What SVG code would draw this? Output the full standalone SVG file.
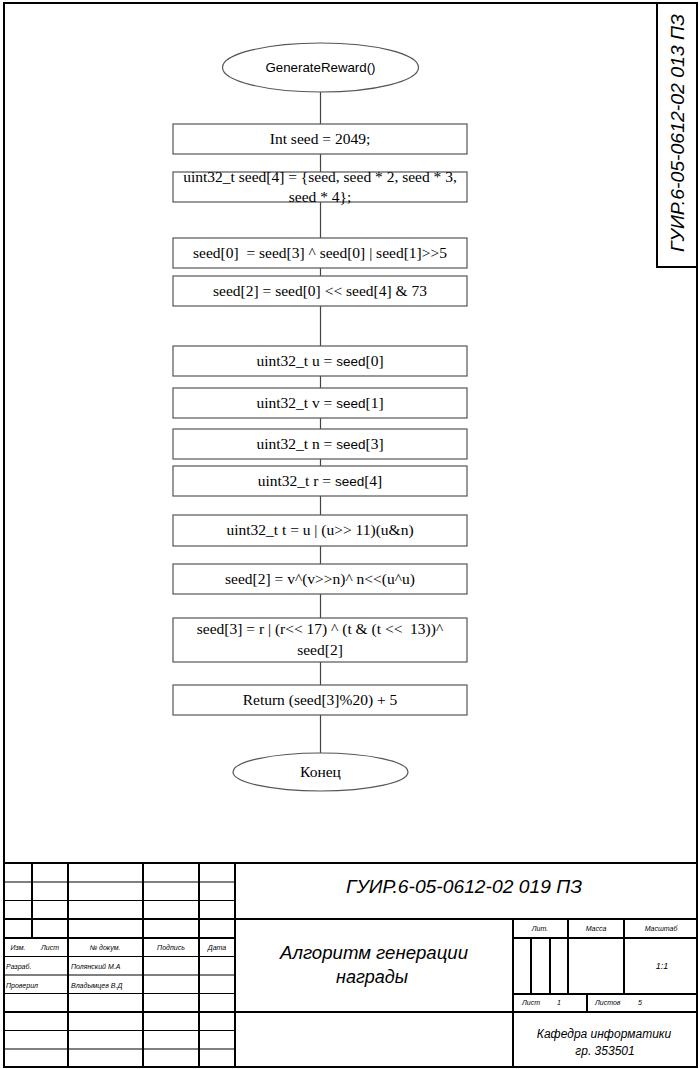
<svg xmlns="http://www.w3.org/2000/svg" width="700" height="1069" viewBox="0 0 700 1069">
<style>
.frame{fill:none;stroke:#000;stroke-width:2}
.tk{stroke:#000;stroke-width:2}
.tn{stroke:#000;stroke-width:1}
.box{fill:#fff;stroke:#555;stroke-width:1.2}
.conn{stroke:#444;stroke-width:1.2;fill:none}
.t{font-family:"Liberation Serif","Times New Roman",serif;font-size:15.5px;fill:#000;text-anchor:middle;white-space:pre}
.s{font-family:"Liberation Sans",Arial,sans-serif}
.g{font-family:"Liberation Sans",Arial,sans-serif;font-style:italic;fill:#000}
.gs{font-family:"Liberation Sans",Arial,sans-serif;font-style:italic;font-size:7px;fill:#000}
</style>
<rect x="0" y="0" width="700" height="1069" fill="#fff"/>
<rect class="frame" x="4" y="3" width="693" height="1064"/>
<g id="stamp">
<rect class="frame" x="657" y="3" width="40" height="264"/>
<text class="g" font-size="18" text-anchor="middle" transform="translate(684,133) rotate(-90)" textLength="238" lengthAdjust="spacingAndGlyphs">ГУИР.6-05-0612-02 013 ПЗ</text>
</g>
<g id="connectors">
<line class="conn" x1="320.5" y1="92" x2="320.5" y2="124"/>
<line class="conn" x1="320.5" y1="154" x2="320.5" y2="172"/>
<line class="conn" x1="320.5" y1="202" x2="320.5" y2="238"/>
<line class="conn" x1="320.5" y1="268" x2="320.5" y2="276"/>
<line class="conn" x1="320.5" y1="306" x2="320.5" y2="346"/>
<line class="conn" x1="320.5" y1="376" x2="320.5" y2="388"/>
<line class="conn" x1="320.5" y1="418" x2="320.5" y2="429"/>
<line class="conn" x1="320.5" y1="459" x2="320.5" y2="466"/>
<line class="conn" x1="320.5" y1="496" x2="320.5" y2="515"/>
<line class="conn" x1="320.5" y1="546" x2="320.5" y2="564"/>
<line class="conn" x1="320.5" y1="594" x2="320.5" y2="618"/>
<line class="conn" x1="320.5" y1="662" x2="320.5" y2="685"/>
<line class="conn" x1="320.5" y1="715" x2="320.5" y2="753"/>
</g>
<g id="start">
<ellipse class="box" cx="320.5" cy="67.5" rx="98" ry="24.5"/>
<text class="t s" x="320.5" y="72" style="font-size:13.3px">GenerateReward()</text>
</g>
<g id="n1"><rect class="box" x="173" y="124" width="294" height="30"/><text class="t" x="320" y="144">Int seed = 2049;</text></g>
<g id="n2"><rect class="box" x="173" y="172" width="294" height="30"/><text class="t" x="320" y="182">uint32_t seed[4] = {seed, seed * 2, seed * 3,</text><text class="t" x="320" y="202">seed * 4};</text></g>
<g id="n3"><rect class="box" x="173" y="238" width="294" height="30"/><text class="t" x="320" y="258">seed[0]  = seed[3] ^ seed[0] | seed[1]&gt;&gt;5</text></g>
<g id="n4"><rect class="box" x="173" y="276" width="294" height="30"/><text class="t" x="320" y="296">seed[2] = seed[0] &lt;&lt; seed[4] &amp; 73</text></g>
<g id="n5"><rect class="box" x="173" y="346" width="294" height="30"/><text class="t" x="320" y="366">uint32_t u = <tspan class="s" style="font-size:13.5px">seed</tspan>[0]</text></g>
<g id="n6"><rect class="box" x="173" y="388" width="294" height="30"/><text class="t" x="320" y="408">uint32_t v = <tspan class="s" style="font-size:13.5px">seed</tspan>[1]</text></g>
<g id="n7"><rect class="box" x="173" y="429" width="294" height="30"/><text class="t" x="320" y="449">uint32_t n = <tspan class="s" style="font-size:13.5px">seed</tspan>[3]</text></g>
<g id="n8"><rect class="box" x="173" y="466" width="294" height="30"/><text class="t" x="320" y="486">uint32_t r = <tspan class="s" style="font-size:13.5px">seed</tspan>[4]</text></g>
<g id="n9"><rect class="box" x="173" y="515" width="294" height="31"/><text class="t" x="320" y="535">uint32_t t = u | (u&gt;&gt; 11)(u&amp;n)</text></g>
<g id="n10"><rect class="box" x="173" y="564" width="294" height="30"/><text class="t" x="320" y="584">seed[2] = v^(v&gt;&gt;n)^ n&lt;&lt;(u^u)</text></g>
<g id="n11"><rect class="box" x="173" y="618" width="294" height="44"/><text class="t" x="320" y="634">seed[3] = r | (r&lt;&lt; 17) ^ (t &amp; (t &lt;&lt;  13))^</text><text class="t" x="320" y="655">seed[2]</text></g>
<g id="n12"><rect class="box" x="173" y="685" width="294" height="30"/><text class="t" x="320" y="705">Return (seed[3]%20) + 5</text></g>
<g id="end">
<ellipse class="box" cx="320.5" cy="772" rx="87.5" ry="19"/>
<text class="t" x="320.5" y="777">Конец</text>
</g>
<g id="titleblock">
<line class="tk" x1="4" y1="863" x2="697" y2="863"/>
<line class="tn" x1="4" y1="882" x2="235" y2="882"/>
<line class="tn" x1="4" y1="900.5" x2="235" y2="900.5"/>
<line class="tk" x1="4" y1="919" x2="697" y2="919"/>
<line class="tk" x1="4" y1="938" x2="235" y2="938"/>
<line class="tn" x1="4" y1="956.5" x2="235" y2="956.5"/>
<line class="tn" x1="4" y1="975" x2="235" y2="975"/>
<line class="tn" x1="4" y1="993.5" x2="235" y2="993.5"/>
<line class="tk" x1="4" y1="1012" x2="697" y2="1012"/>
<line class="tn" x1="4" y1="1030.5" x2="235" y2="1030.5"/>
<line class="tn" x1="4" y1="1049" x2="235" y2="1049"/>
<line class="tk" x1="32" y1="863" x2="32" y2="938"/>
<line class="tk" x1="68" y1="863" x2="68" y2="1067"/>
<line class="tk" x1="143" y1="863" x2="143" y2="1067"/>
<line class="tk" x1="199" y1="863" x2="199" y2="1067"/>
<line class="tk" x1="235" y1="863" x2="235" y2="1067"/>
<line class="tk" x1="513" y1="919" x2="513" y2="1067"/>
<line class="tk" x1="513" y1="938" x2="697" y2="938"/>
<line class="tk" x1="513" y1="994" x2="697" y2="994"/>
<line class="tk" x1="568" y1="919" x2="568" y2="994"/>
<line class="tk" x1="624" y1="919" x2="624" y2="994"/>
<line class="tk" x1="531" y1="938" x2="531" y2="994"/>
<line class="tk" x1="550" y1="938" x2="550" y2="994"/>
<line class="tk" x1="587" y1="994" x2="587" y2="1012"/>
<text class="gs" x="18" y="950" text-anchor="middle">Изм.</text>
<text class="gs" x="50" y="950" text-anchor="middle">Лист</text>
<text class="gs" x="105" y="950" text-anchor="middle">№ докум.</text>
<text class="gs" x="171" y="950" text-anchor="middle">Подпись</text>
<text class="gs" x="217" y="950" text-anchor="middle">Дата</text>
<text class="gs" x="6" y="969">Разраб.</text>
<text class="gs" x="71" y="969">Полянский М.А</text>
<text class="gs" x="6" y="988">Проверил</text>
<text class="gs" x="71" y="988">Владымцев В.Д</text>
<text class="g" x="464" y="893" font-size="18" text-anchor="middle" textLength="236" lengthAdjust="spacingAndGlyphs">ГУИР.6-05-0612-02 019 ПЗ</text>
<text class="g" x="374" y="959" font-size="18" text-anchor="middle" textLength="188" lengthAdjust="spacingAndGlyphs">Алгоритм генерации</text>
<text class="g" x="372" y="983" font-size="18" text-anchor="middle">награды</text>
<text class="gs" x="540" y="931" text-anchor="middle">Лит.</text>
<text class="gs" x="596" y="931" text-anchor="middle">Масса</text>
<text class="gs" x="661" y="931" text-anchor="middle">Масштаб</text>
<text class="gs" x="662" y="969" text-anchor="middle" style="font-size:9px">1:1</text>
<text class="gs" x="522" y="1005">Лист</text>
<text class="gs" x="557" y="1005">1</text>
<text class="gs" x="595" y="1005">Листов</text>
<text class="gs" x="638" y="1005">5</text>
<text class="g" x="604" y="1038" font-size="12" text-anchor="middle">Кафедра информатики</text>
<text class="g" x="605" y="1055" font-size="12" text-anchor="middle">гр. 353501</text>
</g>
</svg>
